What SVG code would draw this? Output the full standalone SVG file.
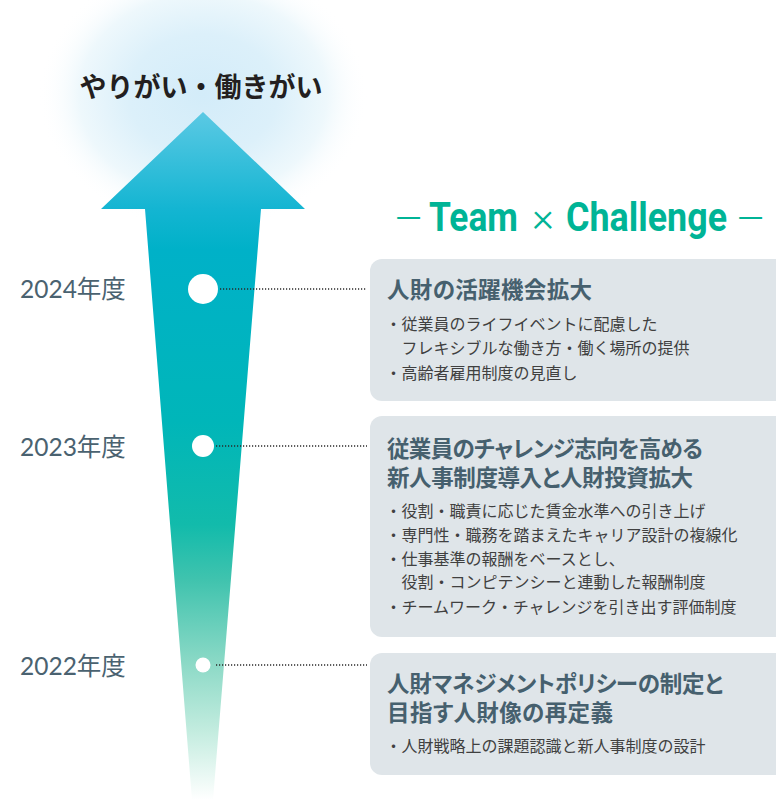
<svg xmlns="http://www.w3.org/2000/svg" width="776" height="801" viewBox="0 0 776 801">
<defs>
<radialGradient id="glow" cx="0.5" cy="0.5" r="0.5">
<stop offset="0" stop-color="#d3ecf9"/>
<stop offset="0.45" stop-color="#dcf0fa"/>
<stop offset="0.75" stop-color="#eef8fc"/>
<stop offset="1" stop-color="#ffffff" stop-opacity="0"/>
</radialGradient>
<linearGradient id="arrowGrad" gradientUnits="userSpaceOnUse" x1="0" y1="112" x2="0" y2="800">
<stop offset="0" stop-color="#5bc9e4"/>
<stop offset="0.14" stop-color="#14b5d2"/>
<stop offset="0.2" stop-color="#00b1c8"/>
<stop offset="0.45" stop-color="#00b6b9"/>
<stop offset="0.6" stop-color="#12bbab"/>
<stop offset="0.68" stop-color="#40c3ae"/>
<stop offset="0.8" stop-color="#8bd9c6"/>
<stop offset="0.9" stop-color="#c3ecdf"/>
<stop offset="1" stop-color="#ffffff"/>
</linearGradient>
<style>
.year{font-family:Lato,"Noto Sans CJK JP",sans-serif;font-size:24.5px;fill:#4a6270}
.ttl{font-family:"Noto Sans CJK JP",sans-serif;font-weight:700;font-size:22.5px;fill:#46606e;font-feature-settings:"palt"}
.bl{font-family:"Noto Sans CJK JP",sans-serif;font-size:16px;fill:#404040}
.box{fill:#dfe5e9}
.tc{font-family:Roboto,"Liberation Sans",sans-serif;font-weight:700;font-size:40px;fill:#00b496}
.tcl{font-family:Roboto,"Liberation Sans",sans-serif;font-weight:300;font-size:40px;fill:#00b496}
.dot{fill:#ffffff}
.conn{stroke:#2a2a2a;stroke-width:1.5;stroke-dasharray:1.2 1.8;fill:none}
</style>
</defs>
<rect width="776" height="801" fill="#ffffff"/>
<ellipse cx="203" cy="95" rx="165" ry="135" fill="url(#glow)"/>
<g id="title">
<text x="201" y="97" text-anchor="middle" font-family="'Noto Sans CJK JP',sans-serif" font-weight="700" font-size="27" fill="#231f20">やりがい・働きがい</text>
</g>
<g id="arrow">
<path d="M203,112 L305,209 L261,209 L213,800 L192,800 L145,209 L101,209 Z" fill="url(#arrowGrad)"/>
</g>
<g id="heading">
<text class="tcl" x="395" y="233" textLength="27" lengthAdjust="spacingAndGlyphs">—</text>
<text class="tc" transform="translate(429 231) scale(0.9 1)" x="0" y="0" textLength="98.9" lengthAdjust="spacingAndGlyphs">Team</text>
<text class="tcl" x="532" y="231" textLength="22" lengthAdjust="spacingAndGlyphs">×</text>
<text class="tc" transform="translate(566 231) scale(0.9 1)" x="0" y="0" textLength="178.9" lengthAdjust="spacingAndGlyphs">Challenge</text>
<text class="tcl" x="737" y="233" textLength="27" lengthAdjust="spacingAndGlyphs">—</text>
</g>
<g id="connectors">
<line class="conn" x1="220" y1="289" x2="367" y2="289"/>
<line class="conn" x1="216" y1="446" x2="367" y2="446"/>
<line class="conn" x1="216" y1="665" x2="367" y2="665"/>
</g>
<g id="y2024">
<circle class="dot" cx="203" cy="289" r="15"/>
<text class="year" x="20" y="298">2024年度</text>
</g>
<g id="y2023">
<circle class="dot" cx="203" cy="446" r="11"/>
<text class="year" x="20" y="456">2023年度</text>
</g>
<g id="y2022">
<circle class="dot" cx="203" cy="665" r="7.5"/>
<text class="year" x="20" y="675">2022年度</text>
</g>
<g id="box2024">
<rect class="box" x="370" y="259" width="420" height="142" rx="12"/>
<text class="ttl" x="387" y="298" textLength="205">人財の活躍機会拡大</text>
<text class="bl" x="385.5" y="330">・従業員のライフイベントに配慮した</text>
<text class="bl" x="401.5" y="354">フレキシブルな働き方・働く場所の提供</text>
<text class="bl" x="385.5" y="379">・高齢者雇用制度の見直し</text>
</g>
<g id="box2023">
<rect class="box" x="370" y="416" width="420" height="221" rx="12"/>
<text class="ttl" x="387" y="457" textLength="316">従業員のチャレンジ志向を高める</text>
<text class="ttl" x="387" y="486" textLength="306">新人事制度導入と人財投資拡大</text>
<text class="bl" x="385.5" y="517">・役割・職責に応じた賃金水準への引き上げ</text>
<text class="bl" x="385.5" y="541">・専門性・職務を踏まえたキャリア設計の複線化</text>
<text class="bl" x="385.5" y="565">・仕事基準の報酬をベースとし、</text>
<text class="bl" x="401.5" y="588">役割・コンピテンシーと連動した報酬制度</text>
<text class="bl" x="385.5" y="613">・チームワーク・チャレンジを引き出す評価制度</text>
</g>
<g id="box2022">
<rect class="box" x="370" y="653" width="420" height="122" rx="12"/>
<text class="ttl" x="387" y="692" textLength="336">人財マネジメントポリシーの制定と</text>
<text class="ttl" x="387" y="721" textLength="226">目指す人財像の再定義</text>
<text class="bl" x="385.5" y="752">・人財戦略上の課題認識と新人事制度の設計</text>
</g>
</svg>
